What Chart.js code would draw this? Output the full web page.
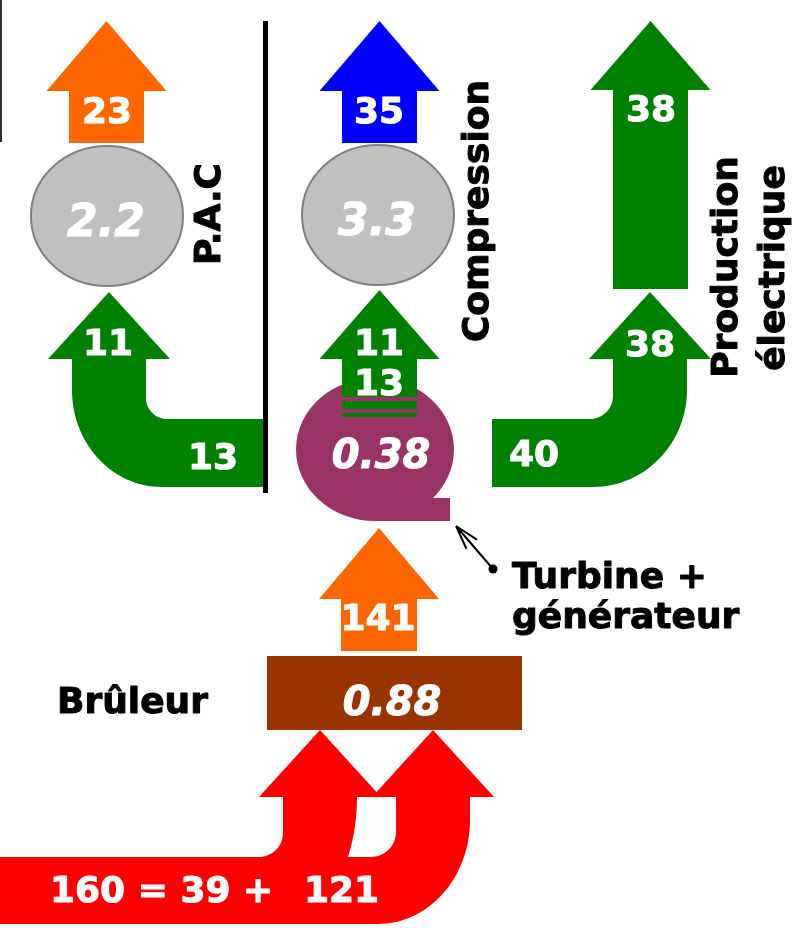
<!DOCTYPE html>
<html>
<head>
<meta charset="utf-8">
<script src="https://cdn.jsdelivr.net/npm/chart.js@4.4.1/dist/chart.umd.min.js"></script>
<style>
html, body { margin: 0; padding: 0; background: #fff; }
canvas { display: block; }
</style>
</head>
<body>
<canvas id="flowChart" width="809" height="930"></canvas>
<script>
// values
const units = ['P.A.C', 'Compression', 'Production', 'électrique'];
const unitCop = [2.2, 3.3];          // efficiency shown in the grey ellipses
const unitOut = [23, 35, 38];        // what each branch delivers
const unitIn = [11, 11, 38];         // what reaches each unit
const turbineOut = [13, 13, 40];     // what leaves the turbine towards each branch
const turbineEff = 0.38;
const burnerEff = 0.88;
const burnerOut = 141;
const fuelIn = [39, 121];
const fuelTotal = 160;

// layout of the diagram in axis units (x 0..809, y 0..930 downwards)
const font = '"DejaVu Sans", Verdana, sans-serif';
const colors = { green: '#008000', orange: '#ff6600', blue: '#0000ff', red: '#ff0000', purple: '#993366', brown: '#993300', grey: '#c0c0c0' };

function upArrow(ctx, s, a, color) {
  ctx.beginPath();
  ctx.moveTo(s.x(a.cx - a.shaft), s.y(a.bottom));
  ctx.lineTo(s.x(a.cx - a.shaft), s.y(a.neck));
  ctx.lineTo(s.x(a.cx - a.head), s.y(a.neck));
  ctx.lineTo(s.x(a.cx), s.y(a.tip));
  ctx.lineTo(s.x(a.cx + a.head), s.y(a.neck));
  ctx.lineTo(s.x(a.cx + a.shaft), s.y(a.neck));
  ctx.lineTo(s.x(a.cx + a.shaft), s.y(a.bottom));
  ctx.closePath();
  ctx.fillStyle = color;
  ctx.fill();
}

// band coming in horizontally from "end", turning up into an arrow
function bentArrow(ctx, s, a, color) {
  const k = 0.5523;
  const dir = a.end > a.cx ? 1 : -1;
  const inner = a.cx + dir * a.shaft;
  const outer = a.cx - dir * a.shaft;
  ctx.beginPath();
  ctx.moveTo(s.x(a.end), s.y(a.top));
  ctx.lineTo(s.x(inner + dir * a.ri), s.y(a.top));
  ctx.bezierCurveTo(s.x(inner + dir * a.ri * (1 - k)), s.y(a.top), s.x(inner), s.y(a.top - a.ri * (1 - k)), s.x(inner), s.y(a.top - a.ri));
  ctx.lineTo(s.x(inner), s.y(a.neck));
  ctx.lineTo(s.x(a.cx + dir * a.head), s.y(a.neck));
  ctx.lineTo(s.x(a.cx), s.y(a.tip));
  ctx.lineTo(s.x(a.cx - dir * a.head), s.y(a.neck));
  ctx.lineTo(s.x(outer), s.y(a.neck));
  ctx.lineTo(s.x(outer), s.y(a.bot - a.roY));
  ctx.bezierCurveTo(s.x(outer), s.y(a.bot - a.roY * (1 - k)), s.x(outer + dir * a.roX * (1 - k)), s.y(a.bot), s.x(outer + dir * a.roX), s.y(a.bot));
  ctx.lineTo(s.x(a.end), s.y(a.bot));
  ctx.closePath();
  ctx.fillStyle = color;
  ctx.fill();
}

function label(ctx, s, text, x, y, size, opts) {
  opts = opts || {};
  ctx.save();
  ctx.font = (opts.italic ? 'italic ' : '') + 'bold ' + size + 'px ' + font;
  ctx.fillStyle = opts.color || '#fff';
  ctx.strokeStyle = opts.color || '#fff';
  ctx.lineWidth = 1;   // a little heavier, like the Verdana bold of the original
  ctx.lineJoin = 'round';
  ctx.textAlign = opts.align || 'center';
  ctx.textBaseline = 'alphabetic';
  let px = s.x(x), py = s.y(y) + (opts.baseline || opts.rotate ? 0 : size * 0.365);
  if (opts.rotate) {
    ctx.translate(px, py);
    ctx.rotate(-Math.PI / 2);
    px = 0; py = 0;
  }
  ctx.fillText(text, px, py);
  ctx.strokeText(text, px, py);
  ctx.restore();
}

function fmt(v) { return String(v); }

const diagramPlugin = {
  id: 'diagram',
  afterDraw(chart) {
    const ctx = chart.ctx;
    const s = {
      x: v => chart.scales.x.getPixelForValue(v),
      y: v => chart.scales.y.getPixelForValue(v)
    };

    // grey ellipses of the heat pump and the compression unit
    [[107, 216], [378, 215]].forEach(c => {
      ctx.beginPath();
      ctx.ellipse(s.x(c[0]), s.y(c[1]), 76, 70, 0, 0, Math.PI * 2);
      ctx.fillStyle = colors.grey;
      ctx.fill();
      ctx.lineWidth = 2;
      ctx.strokeStyle = '#808080';
      ctx.stroke();
    });

    // outputs at the top
    upArrow(ctx, s, { cx: 106.5, tip: 21, neck: 91, bottom: 143, head: 60, shaft: 37.5 }, colors.orange);
    upArrow(ctx, s, { cx: 379.5, tip: 21, neck: 91, bottom: 143, head: 60, shaft: 37.5 }, colors.blue);
    upArrow(ctx, s, { cx: 650.5, tip: 21, neck: 90, bottom: 289, head: 60, shaft: 37.5 }, colors.green);

    // side branches leaving the turbine
    bentArrow(ctx, s, { cx: 109, tip: 292, neck: 359, head: 61, shaft: 37, end: 263, top: 419, bot: 487, ri: 21, roX: 90, roY: 97 }, colors.green);
    bentArrow(ctx, s, { cx: 650, tip: 292, neck: 359, head: 61, shaft: 37, end: 492, top: 419, bot: 487, ri: 23, roX: 94, roY: 97 }, colors.green);

    // turbine + generator
    const tx = s.x(375), ty = s.y(449.5);
    ctx.beginPath();
    ctx.ellipse(tx, ty, 79, 71.5, 0, 0, Math.PI * 2);
    ctx.fillStyle = colors.purple;
    ctx.fill();
    ctx.beginPath();
    ctx.moveTo(tx, ty);
    ctx.lineTo(s.x(433), s.y(498));
    ctx.lineTo(s.x(450), s.y(498));
    ctx.lineTo(s.x(450), s.y(521));
    ctx.lineTo(s.x(375), s.y(521));
    ctx.closePath();
    ctx.fill();

    // middle branch towards compression
    upArrow(ctx, s, { cx: 379.5, tip: 290, neck: 359, bottom: 397, head: 60, shaft: 37.5 }, colors.green);
    ctx.fillStyle = colors.green;
    ctx.fillRect(s.x(342), s.y(401), 75, 8);
    ctx.fillRect(s.x(342), s.y(413), 75, 4);

    // burner output and burner
    upArrow(ctx, s, { cx: 379, tip: 528, neck: 599, bottom: 651, head: 60, shaft: 38 }, colors.orange);
    ctx.fillStyle = colors.brown;
    ctx.fillRect(s.x(267), s.y(656), s.x(522) - s.x(267), s.y(730) - s.y(656));

    // fuel inputs
    bentArrow(ctx, s, { cx: 320, tip: 730, neck: 797, head: 61, shaft: 37, end: 0, top: 857, bot: 924, ri: 24, roX: 76, roY: 127 }, colors.red);
    bentArrow(ctx, s, { cx: 433, tip: 730, neck: 797, head: 61, shaft: 37, end: 0, top: 857, bot: 924, ri: 25, roX: 92, roY: 104 }, colors.red);

    // flow values
    label(ctx, s, fmt(unitOut[0]), 107, 110, 36);
    label(ctx, s, fmt(unitOut[1]), 379, 110, 36);
    label(ctx, s, fmt(unitOut[2]), 651, 108, 36);
    label(ctx, s, fmt(unitIn[0]), 108, 342, 36);
    label(ctx, s, fmt(unitIn[1]), 379, 342, 36);
    label(ctx, s, fmt(unitIn[2]), 650, 343, 36);
    label(ctx, s, fmt(turbineOut[0]), 213, 456, 36);
    label(ctx, s, fmt(turbineOut[1]), 379, 382, 36);
    label(ctx, s, fmt(turbineOut[2]), 534, 453, 36);
    label(ctx, s, fmt(burnerOut), 378, 617, 36);
    label(ctx, s, fuelTotal + ' = ' + fuelIn[0] + ' +', 50, 902, 36, { align: 'left', baseline: true });
    label(ctx, s, fmt(fuelIn[1]), 304, 902, 36, { align: 'left', baseline: true });

    // efficiencies
    label(ctx, s, fmt(unitCop[0]), 106, 220, 44, { italic: true });
    label(ctx, s, fmt(unitCop[1]), 377, 219, 44, { italic: true });
    label(ctx, s, fmt(turbineEff), 381, 453, 40, { italic: true });
    label(ctx, s, fmt(burnerEff), 392, 700, 40, { italic: true });

    // unit names
    label(ctx, s, units[0], 220, 214, 36, { rotate: true, color: '#000' });
    label(ctx, s, units[1], 488, 211, 36, { rotate: true, color: '#000' });
    label(ctx, s, units[2], 737, 267, 36, { rotate: true, color: '#000' });
    label(ctx, s, units[3], 784, 268, 36, { rotate: true, color: '#000' });
    label(ctx, s, 'Turbine +', 512, 588, 36, { align: 'left', baseline: true, color: '#000' });
    label(ctx, s, 'générateur', 512, 628, 36, { align: 'left', baseline: true, color: '#000' });
    label(ctx, s, 'Brûleur', 57, 713, 36, { align: 'left', baseline: true, color: '#000' });

    // separators
    ctx.fillStyle = '#000';
    ctx.fillRect(s.x(263), s.y(21), 5, s.y(493) - s.y(21));
    ctx.fillStyle = '#333';
    ctx.fillRect(s.x(0), s.y(0), 2, s.y(142) - s.y(0));

    // pointer to the turbine
    ctx.strokeStyle = '#000';
    ctx.lineWidth = 2;
    const p0 = [s.x(493), s.y(569)], p1 = [s.x(456), s.y(526)];
    ctx.beginPath();
    ctx.moveTo(p0[0], p0[1]);
    ctx.lineTo(p1[0], p1[1]);
    const ang = Math.atan2(p0[1] - p1[1], p0[0] - p1[0]);
    [-0.28, 0.28].forEach(d => {
      ctx.moveTo(p1[0], p1[1]);
      ctx.lineTo(p1[0] + 25 * Math.cos(ang + d), p1[1] + 25 * Math.sin(ang + d));
    });
    ctx.stroke();
    ctx.beginPath();
    ctx.arc(p0[0], p0[1], 4.5, 0, Math.PI * 2);
    ctx.fillStyle = '#000';
    ctx.fill();
  }
};

new Chart(document.getElementById('flowChart').getContext('2d'), {
  type: 'scatter',
  data: { datasets: [] },
  options: {
    responsive: false,
    animation: false,
    devicePixelRatio: 1,
    layout: { padding: 0 },
    plugins: { legend: { display: false }, tooltip: { enabled: false } },
    scales: {
      x: { type: 'linear', min: 0, max: 809, display: false },
      y: { type: 'linear', min: 0, max: 930, reverse: true, display: false }
    }
  },
  plugins: [diagramPlugin]
});
</script>
</body>
</html>
